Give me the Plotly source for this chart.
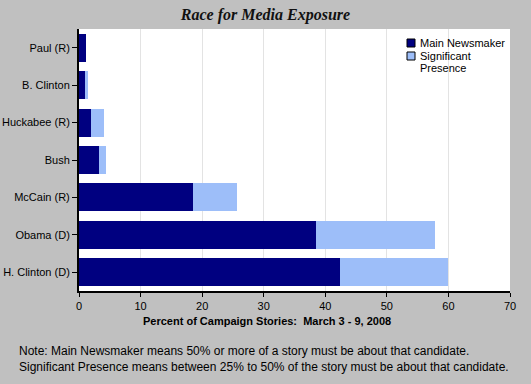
import plotly.graph_objects as go

candidates = ["Paul (R)", "B. Clinton", "Huckabee (R)", "Bush", "McCain (R)", "Obama (D)", "H. Clinton (D)"]
main_newsmaker = [1.2, 0.9, 1.9, 3.2, 18.5, 38.5, 42.4]
significant_presence = [0.0, 0.6, 2.1, 1.2, 7.2, 19.3, 17.6]
x_ticks = [0, 10, 20, 30, 40, 50, 60, 70]
series_names = ["Main Newsmaker", "Significant<br>Presence"]

NAVY = "#000080"
LIGHT = "#9DBEF9"
FONT = "Liberation Sans, Arial, sans-serif"
colors = [NAVY, LIGHT]

PL, PT, PW, PH = 79, 29, 431, 262  # plot area in pixels


def px_x(p):
    return (p - PL) / PW


def px_y(p):
    return 1 - (p - PT) / PH


fig = go.Figure()
fig.add_trace(go.Bar(y=candidates, x=main_newsmaker, orientation="h", name=series_names[0],
                     marker=dict(color=NAVY, line=dict(width=0)), showlegend=False))
fig.add_trace(go.Bar(y=candidates, x=significant_presence, orientation="h", name=series_names[1],
                     marker=dict(color=LIGHT, line=dict(width=0)), showlegend=False))

shapes = []
annotations = []
legend_rows = [43, 56]
for name, col, yc in zip(series_names, colors, legend_rows):
    shapes.append(dict(type="rect", xref="paper", yref="paper",
                       x0=px_x(407), x1=px_x(415), y0=px_y(yc + 4), y1=px_y(yc - 4),
                       fillcolor=col, line=dict(color="black", width=1)))
    for i, line in enumerate(name.split("<br>")):
        annotations.append(dict(text=line, xref="paper", yref="paper", x=px_x(418), y=px_y(yc + 12 * i),
                                xanchor="left", yanchor="middle", align="left", showarrow=False,
                                font=dict(size=11)))

annotations += [
    dict(text="<b>Percent of Campaign Stories:  March 3 - 9, 2008</b>", xref="paper", yref="paper",
         x=px_x(267), y=px_y(321), xanchor="center", yanchor="middle",
         showarrow=False, font=dict(size=11)),
    dict(text="Note: Main Newsmaker means 50% or more of a story must be about that candidate.<br>"
              "Significant Presence means between 25% to 50% of the story must be about that candidate.",
         xref="paper", yref="paper", x=px_x(17), y=px_y(359),
         xanchor="left", yanchor="middle", align="left", showarrow=False, font=dict(size=12)),
]

fig.update_layout(
    width=531, height=384,
    barmode="stack", bargap=0.25,
    paper_bgcolor="#C0C0C0", plot_bgcolor="white",
    margin=dict(l=PL, r=531 - PL - PW, t=PT, b=384 - PT - PH, autoexpand=False),
    font=dict(family=FONT, size=11, color="black"),
    title=dict(text="<b><i>Race for Media Exposure</i></b>", x=0.5, xanchor="center", y=0.962, yanchor="middle",
               font=dict(family="Liberation Serif, Times New Roman, serif", size=16, color="#111")),
    showlegend=False,
    xaxis=dict(range=[0, 70], tickvals=x_ticks, showgrid=True, gridcolor="#E3E3E3", gridwidth=1,
               showline=True, linecolor="black", linewidth=2, ticks="outside", ticklen=4,
               tickcolor="black", tickwidth=1, zeroline=False, fixedrange=True, automargin=False),
    yaxis=dict(categoryorder="array", categoryarray=candidates, autorange="reversed",
               showline=True, linecolor="black", linewidth=2, ticks="outside", ticklen=5,
               tickcolor="black", tickwidth=1, showgrid=False, fixedrange=True, automargin=False),
    shapes=shapes,
    annotations=annotations,
)

fig.write_html("out.html", post_script="document.body.style.margin='0';",
               config={"displayModeBar": False})
